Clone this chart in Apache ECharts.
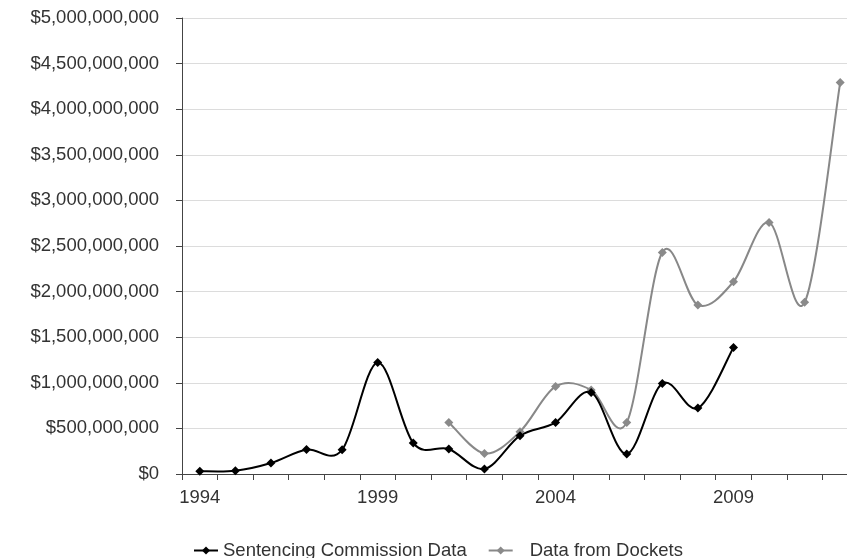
<!DOCTYPE html>
<html>
<head>
<meta charset="utf-8">
<script src="https://cdn.jsdelivr.net/npm/echarts@6/dist/echarts.min.js"></script>
<style>html,body{margin:0;padding:0;background:#fff;overflow:hidden;width:847px;height:558px;}#c{width:858px;height:558px;}</style>
</head>
<body>
<div id="c"></div>
<script>
var years = ['1994','1995','1996','1997','1998','1999','2000','2001','2002','2003','2004','2005','2006','2007','2008','2009','2010','2011','2012'];
var sentencingCommission = [30e6, 35e6, 120e6, 268e6, 265e6, 1222e6, 340e6, 274e6, 55e6, 420e6, 566e6, 895e6, 219e6, 993e6, 723e6, 1388e6, null, null, null];
var dockets = [null, null, null, null, null, null, null, 566e6, 226e6, 464e6, 960e6, 921e6, 566e6, 2430e6, 1853e6, 2108e6, 2759e6, 1882e6, 4294e6];
var yTicks = {min: 0, max: 5e9, interval: 5e8};

function money(v) {
  var s = Math.round(v).toString();
  return '$' + s.replace(/\B(?=(\d{3})+(?!\d))/g, ',');
}

// Catmull-Rom style smooth curve through the data points, positioned via the axis scales
function smoothRenderer(values, color) {
  return function (params, api) {
    var runs = [], cur = [];
    for (var i = 0; i < values.length; i++) {
      if (values[i] == null) { if (cur.length) runs.push(cur); cur = []; }
      else cur.push(api.coord([i, values[i]]));
    }
    if (cur.length) runs.push(cur);
    var children = [];
    runs.forEach(function (p) {
      for (var k = 0; k < p.length - 1; k++) {
        var p0 = p[Math.max(k - 1, 0)], p1 = p[k], p2 = p[k + 1], p3 = p[Math.min(k + 2, p.length - 1)];
        children.push({
          type: 'bezierCurve',
          shape: {
            x1: p1[0], y1: p1[1], x2: p2[0], y2: p2[1],
            cpx1: p1[0] + (p2[0] - p0[0]) / 6, cpy1: p1[1] + (p2[1] - p0[1]) / 6,
            cpx2: p2[0] - (p3[0] - p1[0]) / 6, cpy2: p2[1] - (p3[1] - p1[1]) / 6
          },
          style: {stroke: color, lineWidth: 2, fill: null}
        });
      }
    });
    return {type: 'group', children: children};
  };
}

var chart = echarts.init(document.getElementById('c'));
var font = 'Liberation Sans, Arial, Helvetica, sans-serif';
chart.setOption({
  backgroundColor: '#fff',
  animation: false,
  grid: {left: 182, top: 18, right: 0, bottom: 84, containLabel: false},
  legend: {
    left: 188, top: 536, itemWidth: 24, itemHeight: 10, itemGap: 21,
    textStyle: {fontFamily: font, fontSize: 18.5, color: '#333'},
    data: [
      {name: 'Sentencing Commission Data', lineStyle: {color: '#000', width: 2, opacity: 1}},
      {name: 'Data from Dockets', lineStyle: {color: '#888', width: 2, opacity: 1}, textStyle: {padding: [0, 0, 0, 12]}}
    ]
  },
  xAxis: {
    type: 'category', data: years, boundaryGap: true,
    axisLine: {lineStyle: {color: '#444', width: 1}},
    axisTick: {show: true, interval: 0, length: 6, lineStyle: {color: '#444'}},
    axisLabel: {interval: 4, margin: 14, fontFamily: font, fontSize: 18.5, color: '#333'},
    splitLine: {show: false}
  },
  yAxis: {
    type: 'value', min: yTicks.min, max: yTicks.max, interval: yTicks.interval,
    axisLine: {show: true, lineStyle: {color: '#444', width: 1}},
    axisTick: {show: true, length: 6, lineStyle: {color: '#444'}},
    axisLabel: {margin: 23, fontFamily: font, fontSize: 18.5, color: '#333', formatter: money},
    splitLine: {lineStyle: {color: '#dcdcdc', width: 1}}
  },
  series: [
    {
      type: 'custom', coordinateSystem: 'cartesian2d', data: [[0, 0]], silent: true, clip: false, z: 2,
      renderItem: smoothRenderer(sentencingCommission, '#000')
    },
    {
      type: 'custom', coordinateSystem: 'cartesian2d', data: [[0, 0]], silent: true, clip: false, z: 1,
      renderItem: smoothRenderer(dockets, '#888')
    },
    {
      name: 'Sentencing Commission Data', type: 'line', data: sentencingCommission, z: 4,
      connectNulls: false, symbol: 'diamond', symbolSize: 9,
      lineStyle: {color: '#000', width: 2, opacity: 0}, itemStyle: {color: '#000'}
    },
    {
      name: 'Data from Dockets', type: 'line', data: dockets, z: 3,
      connectNulls: false, symbol: 'diamond', symbolSize: 9,
      lineStyle: {color: '#888', width: 2, opacity: 0}, itemStyle: {color: '#8a8a8a'}
    }
  ]
});
</script>
</body>
</html>
